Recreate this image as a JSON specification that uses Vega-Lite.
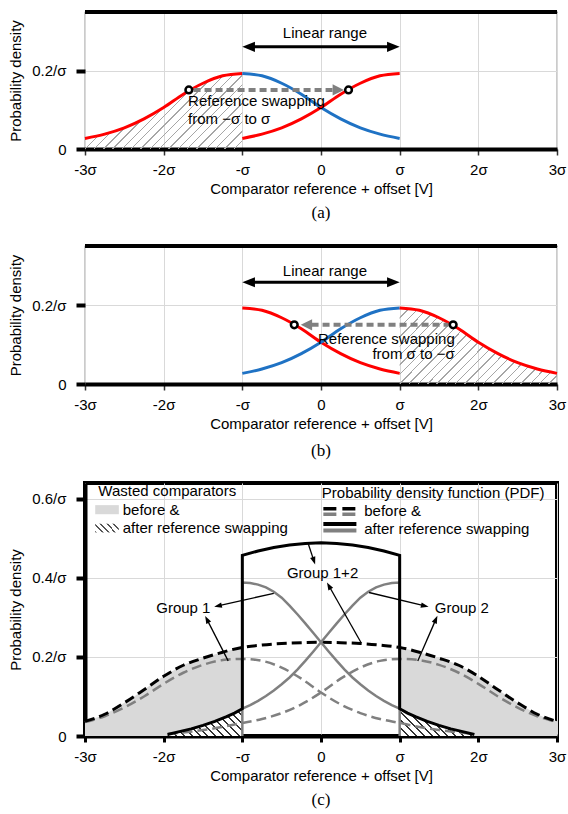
{
"$schema": "https://vega.github.io/schema/vega-lite/v6.json",
"background": "white",
"padding": {"left": 6, "top": 9, "right": 0, "bottom": 2},
"spacing": 21,
"config": {
 "font": "Liberation Sans",
 "view": {"stroke": null},
 "axis": {"labelFont": "Liberation Sans", "titleFont": "Liberation Sans", "labelFontSize": 15, "titleFontSize": 15, "titleFontWeight": "normal", "labelColor": "black", "titleColor": "black", "gridColor": "#d9d9d9", "gridWidth": 1},
 "text": {"font": "Liberation Sans", "fontSize": 15, "color": "black"},
 "title": {"font": "Liberation Serif", "fontSize": 17, "fontWeight": "normal", "color": "black", "orient": "bottom", "offset": 9}
},
"datasets": {
 "f1L": [{"x":-3,"y":0.027},{"x":-2.75,"y":0.038},{"x":-2.5,"y":0.054},{"x":-2.25,"y":0.077},{"x":-2,"y":0.106},{"x":-1.75,"y":0.14},{"x":-1.5,"y":0.168},{"x":-1.25,"y":0.187},{"x":-1,"y":0.193}],
 "f1M": [{"x":-1,"y":0.193},{"x":-0.75,"y":0.187},{"x":-0.5,"y":0.168},{"x":-0.25,"y":0.14},{"x":0,"y":0.106},{"x":0.25,"y":0.077},{"x":0.5,"y":0.054},{"x":0.75,"y":0.038},{"x":1,"y":0.027}],
 "f2M": [{"x":-1,"y":0.027},{"x":-0.75,"y":0.038},{"x":-0.5,"y":0.054},{"x":-0.25,"y":0.077},{"x":0,"y":0.106},{"x":0.25,"y":0.14},{"x":0.5,"y":0.168},{"x":0.75,"y":0.187},{"x":1,"y":0.193}],
 "f2R": [{"x":1,"y":0.193},{"x":1.25,"y":0.187},{"x":1.5,"y":0.168},{"x":1.75,"y":0.14},{"x":2,"y":0.106},{"x":2.25,"y":0.077},{"x":2.5,"y":0.054},{"x":2.75,"y":0.038},{"x":3,"y":0.027}],
 "cFill": [
  {"g":"L","x":-3,"y":0.037},{"g":"L","x":-2.75,"y":0.055},{"g":"L","x":-2.5,"y":0.084},{"g":"L","x":-2.25,"y":0.117},{"g":"L","x":-2,"y":0.151},{"g":"L","x":-1.75,"y":0.179},{"g":"L","x":-1.5,"y":0.197},{"g":"L","x":-1.25,"y":0.212},{"g":"L","x":-1,"y":0.224},
  {"g":"R","x":1,"y":0.224},{"g":"R","x":1.25,"y":0.212},{"g":"R","x":1.5,"y":0.197},{"g":"R","x":1.75,"y":0.179},{"g":"R","x":2,"y":0.151},{"g":"R","x":2.25,"y":0.117},{"g":"R","x":2.5,"y":0.084},{"g":"R","x":2.75,"y":0.055},{"g":"R","x":3,"y":0.037}],
 "cDash": [{"x":-3,"y":0.037},{"x":-2.75,"y":0.055},{"x":-2.5,"y":0.084},{"x":-2.25,"y":0.117},{"x":-2,"y":0.151},{"x":-1.75,"y":0.179},{"x":-1.5,"y":0.197},{"x":-1.25,"y":0.212},{"x":-1,"y":0.224},{"x":-0.75,"y":0.23},{"x":-0.5,"y":0.234},{"x":-0.25,"y":0.236},{"x":0,"y":0.237},{"x":0.25,"y":0.236},{"x":0.5,"y":0.234},{"x":0.75,"y":0.23},{"x":1,"y":0.224},{"x":1.25,"y":0.212},{"x":1.5,"y":0.197},{"x":1.75,"y":0.179},{"x":2,"y":0.151},{"x":2.25,"y":0.117},{"x":2.5,"y":0.084},{"x":2.75,"y":0.055},{"x":3,"y":0.037}],
 "cGrayDash": [
  {"g":"1","x":-3,"y":0.035},{"g":"1","x":-2.75,"y":0.05},{"g":"1","x":-2.5,"y":0.072},{"g":"1","x":-2.25,"y":0.1},{"g":"1","x":-2,"y":0.132},{"g":"1","x":-1.75,"y":0.16},{"g":"1","x":-1.5,"y":0.18},{"g":"1","x":-1.25,"y":0.192},{"g":"1","x":-1,"y":0.195},{"g":"1","x":-0.75,"y":0.19},{"g":"1","x":-0.5,"y":0.173},{"g":"1","x":-0.25,"y":0.145},{"g":"1","x":0,"y":0.11},{"g":"1","x":0.25,"y":0.08},{"g":"1","x":0.5,"y":0.058},{"g":"1","x":0.75,"y":0.043},{"g":"1","x":1,"y":0.033},{"g":"1","x":1.25,"y":0.023},{"g":"1","x":1.5,"y":0.015},{"g":"1","x":1.75,"y":0.009},{"g":"1","x":1.95,"y":0.005},
  {"g":"2","x":-1.95,"y":0.005},{"g":"2","x":-1.75,"y":0.009},{"g":"2","x":-1.5,"y":0.015},{"g":"2","x":-1.25,"y":0.023},{"g":"2","x":-1,"y":0.033},{"g":"2","x":-0.75,"y":0.043},{"g":"2","x":-0.5,"y":0.058},{"g":"2","x":-0.25,"y":0.08},{"g":"2","x":0,"y":0.11},{"g":"2","x":0.25,"y":0.145},{"g":"2","x":0.5,"y":0.173},{"g":"2","x":0.75,"y":0.19},{"g":"2","x":1,"y":0.195},{"g":"2","x":1.25,"y":0.192},{"g":"2","x":1.5,"y":0.18},{"g":"2","x":1.75,"y":0.16},{"g":"2","x":2,"y":0.132},{"g":"2","x":2.25,"y":0.1},{"g":"2","x":2.5,"y":0.072},{"g":"2","x":2.75,"y":0.05},{"g":"2","x":3,"y":0.035}],
 "cTail": [
  {"g":"L","x":-1.95,"y":0.004},{"g":"L","x":-1.8,"y":0.011},{"g":"L","x":-1.65,"y":0.018},{"g":"L","x":-1.5,"y":0.027},{"g":"L","x":-1.35,"y":0.037},{"g":"L","x":-1.2,"y":0.049},{"g":"L","x":-1.1,"y":0.058},{"g":"L","x":-1,"y":0.069},
  {"g":"R","x":1,"y":0.069},{"g":"R","x":1.1,"y":0.058},{"g":"R","x":1.2,"y":0.049},{"g":"R","x":1.35,"y":0.037},{"g":"R","x":1.5,"y":0.027},{"g":"R","x":1.65,"y":0.018},{"g":"R","x":1.8,"y":0.011},{"g":"R","x":1.95,"y":0.004}],
 "cBlack": [
  {"i":0,"x":-1.95,"y":0.004},{"i":1,"x":-1.8,"y":0.011},{"i":2,"x":-1.65,"y":0.018},{"i":3,"x":-1.5,"y":0.027},{"i":4,"x":-1.35,"y":0.037},{"i":5,"x":-1.2,"y":0.049},{"i":6,"x":-1.1,"y":0.058},{"i":7,"x":-1,"y":0.069},
  {"i":8,"x":-1,"y":0.457},{"i":9,"x":-0.8,"y":0.468},{"i":10,"x":-0.6,"y":0.477},{"i":11,"x":-0.4,"y":0.483},{"i":12,"x":-0.2,"y":0.487},{"i":13,"x":0,"y":0.489},{"i":14,"x":0.2,"y":0.487},{"i":15,"x":0.4,"y":0.483},{"i":16,"x":0.6,"y":0.477},{"i":17,"x":0.8,"y":0.468},{"i":18,"x":1,"y":0.457},
  {"i":19,"x":1,"y":0.069},{"i":20,"x":1.1,"y":0.058},{"i":21,"x":1.2,"y":0.049},{"i":22,"x":1.35,"y":0.037},{"i":23,"x":1.5,"y":0.027},{"i":24,"x":1.65,"y":0.018},{"i":25,"x":1.8,"y":0.011},{"i":26,"x":1.95,"y":0.004}],
 "cGray": [
  {"g":"1","i":0,"x":-1,"y":0},{"g":"1","i":1,"x":-1,"y":0.388},{"g":"1","i":2,"x":-0.9,"y":0.387},{"g":"1","i":3,"x":-0.8,"y":0.383},{"g":"1","i":4,"x":-0.7,"y":0.376},{"g":"1","i":5,"x":-0.6,"y":0.365},{"g":"1","i":6,"x":-0.5,"y":0.35},{"g":"1","i":7,"x":-0.4,"y":0.33},{"g":"1","i":8,"x":-0.3,"y":0.308},{"g":"1","i":9,"x":-0.2,"y":0.285},{"g":"1","i":10,"x":-0.1,"y":0.261},{"g":"1","i":11,"x":0,"y":0.237},{"g":"1","i":12,"x":0.1,"y":0.213},{"g":"1","i":13,"x":0.2,"y":0.19},{"g":"1","i":14,"x":0.3,"y":0.168},{"g":"1","i":15,"x":0.4,"y":0.148},{"g":"1","i":16,"x":0.5,"y":0.131},{"g":"1","i":17,"x":0.6,"y":0.115},{"g":"1","i":18,"x":0.7,"y":0.101},{"g":"1","i":19,"x":0.8,"y":0.089},{"g":"1","i":20,"x":0.9,"y":0.078},{"g":"1","i":21,"x":1,"y":0.069},
  {"g":"2","i":0,"x":1,"y":0},{"g":"2","i":1,"x":1,"y":0.388},{"g":"2","i":2,"x":0.9,"y":0.387},{"g":"2","i":3,"x":0.8,"y":0.383},{"g":"2","i":4,"x":0.7,"y":0.376},{"g":"2","i":5,"x":0.6,"y":0.365},{"g":"2","i":6,"x":0.5,"y":0.35},{"g":"2","i":7,"x":0.4,"y":0.33},{"g":"2","i":8,"x":0.3,"y":0.308},{"g":"2","i":9,"x":0.2,"y":0.285},{"g":"2","i":10,"x":0.1,"y":0.261},{"g":"2","i":11,"x":0,"y":0.237},{"g":"2","i":12,"x":-0.1,"y":0.213},{"g":"2","i":13,"x":-0.2,"y":0.19},{"g":"2","i":14,"x":-0.3,"y":0.168},{"g":"2","i":15,"x":-0.4,"y":0.148},{"g":"2","i":16,"x":-0.5,"y":0.131},{"g":"2","i":17,"x":-0.6,"y":0.115},{"g":"2","i":18,"x":-0.7,"y":0.101},{"g":"2","i":19,"x":-0.8,"y":0.089},{"g":"2","i":20,"x":-0.9,"y":0.078},{"g":"2","i":21,"x":-1,"y":0.069}]
},
"vconcat": [
 {
  "width": 472, "height": 137,
  "view": {"stroke": "#555555", "strokeWidth": 1.2},
  "title": {"text": "(a)", "offset": 9},
  "layer": [
   {"data": {"name": "f1L"},
    "mark": {"type": "area", "interpolate": "monotone", "fill": {"gradient": "linear", "x1": 0, "y1": 0, "x2": 1.203, "y2": 0.577, "stops": [
     {"offset":0,"color":"#a6a6a6"},{"offset":0.006,"color":"#a6a6a6"},{"offset":0.006,"color":"rgba(255,255,255,0)"},{"offset":0.04,"color":"rgba(255,255,255,0)"},
     {"offset":0.04,"color":"#a6a6a6"},{"offset":0.046,"color":"#a6a6a6"},{"offset":0.046,"color":"rgba(255,255,255,0)"},{"offset":0.08,"color":"rgba(255,255,255,0)"},
     {"offset":0.08,"color":"#a6a6a6"},{"offset":0.086,"color":"#a6a6a6"},{"offset":0.086,"color":"rgba(255,255,255,0)"},{"offset":0.12,"color":"rgba(255,255,255,0)"},
     {"offset":0.12,"color":"#a6a6a6"},{"offset":0.126,"color":"#a6a6a6"},{"offset":0.126,"color":"rgba(255,255,255,0)"},{"offset":0.16,"color":"rgba(255,255,255,0)"},
     {"offset":0.16,"color":"#a6a6a6"},{"offset":0.166,"color":"#a6a6a6"},{"offset":0.166,"color":"rgba(255,255,255,0)"},{"offset":0.2,"color":"rgba(255,255,255,0)"},
     {"offset":0.2,"color":"#a6a6a6"},{"offset":0.206,"color":"#a6a6a6"},{"offset":0.206,"color":"rgba(255,255,255,0)"},{"offset":0.24,"color":"rgba(255,255,255,0)"},
     {"offset":0.24,"color":"#a6a6a6"},{"offset":0.246,"color":"#a6a6a6"},{"offset":0.246,"color":"rgba(255,255,255,0)"},{"offset":0.28,"color":"rgba(255,255,255,0)"},
     {"offset":0.28,"color":"#a6a6a6"},{"offset":0.286,"color":"#a6a6a6"},{"offset":0.286,"color":"rgba(255,255,255,0)"},{"offset":0.32,"color":"rgba(255,255,255,0)"},
     {"offset":0.32,"color":"#a6a6a6"},{"offset":0.326,"color":"#a6a6a6"},{"offset":0.326,"color":"rgba(255,255,255,0)"},{"offset":0.36,"color":"rgba(255,255,255,0)"},
     {"offset":0.36,"color":"#a6a6a6"},{"offset":0.366,"color":"#a6a6a6"},{"offset":0.366,"color":"rgba(255,255,255,0)"},{"offset":0.4,"color":"rgba(255,255,255,0)"},
     {"offset":0.4,"color":"#a6a6a6"},{"offset":0.406,"color":"#a6a6a6"},{"offset":0.406,"color":"rgba(255,255,255,0)"},{"offset":0.44,"color":"rgba(255,255,255,0)"},
     {"offset":0.44,"color":"#a6a6a6"},{"offset":0.446,"color":"#a6a6a6"},{"offset":0.446,"color":"rgba(255,255,255,0)"},{"offset":0.48,"color":"rgba(255,255,255,0)"},
     {"offset":0.48,"color":"#a6a6a6"},{"offset":0.486,"color":"#a6a6a6"},{"offset":0.486,"color":"rgba(255,255,255,0)"},{"offset":0.52,"color":"rgba(255,255,255,0)"},
     {"offset":0.52,"color":"#a6a6a6"},{"offset":0.526,"color":"#a6a6a6"},{"offset":0.526,"color":"rgba(255,255,255,0)"},{"offset":0.56,"color":"rgba(255,255,255,0)"},
     {"offset":0.56,"color":"#a6a6a6"},{"offset":0.566,"color":"#a6a6a6"},{"offset":0.566,"color":"rgba(255,255,255,0)"},{"offset":0.6,"color":"rgba(255,255,255,0)"},
     {"offset":0.6,"color":"#a6a6a6"},{"offset":0.606,"color":"#a6a6a6"},{"offset":0.606,"color":"rgba(255,255,255,0)"},{"offset":0.64,"color":"rgba(255,255,255,0)"},
     {"offset":0.64,"color":"#a6a6a6"},{"offset":0.646,"color":"#a6a6a6"},{"offset":0.646,"color":"rgba(255,255,255,0)"},{"offset":0.68,"color":"rgba(255,255,255,0)"},
     {"offset":0.68,"color":"#a6a6a6"},{"offset":0.686,"color":"#a6a6a6"},{"offset":0.686,"color":"rgba(255,255,255,0)"},{"offset":0.72,"color":"rgba(255,255,255,0)"},
     {"offset":0.72,"color":"#a6a6a6"},{"offset":0.726,"color":"#a6a6a6"},{"offset":0.726,"color":"rgba(255,255,255,0)"},{"offset":0.76,"color":"rgba(255,255,255,0)"},
     {"offset":0.76,"color":"#a6a6a6"},{"offset":0.766,"color":"#a6a6a6"},{"offset":0.766,"color":"rgba(255,255,255,0)"},{"offset":0.8,"color":"rgba(255,255,255,0)"},
     {"offset":0.8,"color":"#a6a6a6"},{"offset":0.806,"color":"#a6a6a6"},{"offset":0.806,"color":"rgba(255,255,255,0)"},{"offset":0.84,"color":"rgba(255,255,255,0)"},
     {"offset":0.84,"color":"#a6a6a6"},{"offset":0.846,"color":"#a6a6a6"},{"offset":0.846,"color":"rgba(255,255,255,0)"},{"offset":0.88,"color":"rgba(255,255,255,0)"},
     {"offset":0.88,"color":"#a6a6a6"},{"offset":0.886,"color":"#a6a6a6"},{"offset":0.886,"color":"rgba(255,255,255,0)"},{"offset":0.92,"color":"rgba(255,255,255,0)"},
     {"offset":0.92,"color":"#a6a6a6"},{"offset":0.926,"color":"#a6a6a6"},{"offset":0.926,"color":"rgba(255,255,255,0)"},{"offset":0.96,"color":"rgba(255,255,255,0)"},
     {"offset":0.96,"color":"#a6a6a6"},{"offset":0.966,"color":"#a6a6a6"},{"offset":0.966,"color":"rgba(255,255,255,0)"},{"offset":1,"color":"rgba(255,255,255,0)"}]}},
    "encoding": {
     "x": {"field": "x", "type": "quantitative", "scale": {"domain": [-3, 3], "nice": false, "zero": false},
      "axis": {"values": [-3,-2,-1,0,1,2,3], "labelExpr": "datum.value == 0 ? '0' : datum.value == 1 ? 'σ' : datum.value == -1 ? '-σ' : datum.value + 'σ'", "title": "Comparator reference + offset [V]", "domainColor": "black", "domainWidth": 4, "tickColor": "#333333", "tickWidth": 1.5, "tickSize": 6, "labelPadding": 7, "titlePadding": 4, "labelFlush": false, "labelOverlap": false, "grid": true}},
     "y": {"field": "y", "type": "quantitative", "stack": null, "scale": {"domain": [0, 0.35], "nice": false},
      "axis": {"values": [0, 0.2], "labelExpr": "datum.value == 0 ? '0' : format(datum.value, '.1f') + '/σ'", "title": "Probability density", "domain": false, "tickColor": "black", "tickWidth": 4, "tickSize": 9, "labelPadding": 10, "titlePadding": 8, "grid": true}}
    }},
   {"data": {"name": "f1L"}, "mark": {"type": "line", "interpolate": "monotone", "color": "#ff0000", "strokeWidth": 3},
    "encoding": {"x": {"field": "x", "type": "quantitative"}, "y": {"field": "y", "type": "quantitative"}}},
   {"data": {"name": "f1M"}, "mark": {"type": "line", "interpolate": "monotone", "color": "#1f72c4", "strokeWidth": 3},
    "encoding": {"x": {"field": "x", "type": "quantitative"}, "y": {"field": "y", "type": "quantitative"}}},
   {"data": {"name": "f2M"}, "mark": {"type": "line", "interpolate": "monotone", "color": "#ff0000", "strokeWidth": 3},
    "encoding": {"x": {"field": "x", "type": "quantitative"}, "y": {"field": "y", "type": "quantitative"}}},
   {"data": {"values": [{"x": -1.62, "x2": 0.16, "y": 0.151}]}, "mark": {"type": "rule", "color": "#808080", "strokeWidth": 4, "strokeDash": [7, 4]},
    "encoding": {"x": {"field": "x", "type": "quantitative"}, "x2": {"field": "x2"}, "y": {"field": "y", "type": "quantitative"}}},
   {"data": {"values": [{"x": 0.22, "y": 0.151}]}, "mark": {"type": "point", "shape": "M0,-1L1,1L-1,1Z", "angle": 90, "filled": true, "color": "#808080", "size": 130, "opacity": 1},
    "encoding": {"x": {"field": "x", "type": "quantitative"}, "y": {"field": "y", "type": "quantitative"}}},
   {"data": {"values": [{"x": -1.68, "y": 0.151}, {"x": 0.35, "y": 0.151}]}, "mark": {"type": "point", "shape": "circle", "filled": true, "fill": "white", "stroke": "black", "strokeWidth": 2.5, "size": 45, "opacity": 1},
    "encoding": {"x": {"field": "x", "type": "quantitative"}, "y": {"field": "y", "type": "quantitative"}}},
   {"data": {"values": [{"x": -0.92, "x2": 0.92, "y": 0.261}]}, "mark": {"type": "rule", "color": "black", "strokeWidth": 3},
    "encoding": {"x": {"field": "x", "type": "quantitative"}, "x2": {"field": "x2"}, "y": {"field": "y", "type": "quantitative"}}},
   {"data": {"values": [{"x": -0.92, "y": 0.261}]}, "mark": {"type": "point", "shape": "M0,-1L0.8,1L-0.8,1Z", "angle": 270, "filled": true, "color": "black", "size": 160, "opacity": 1},
    "encoding": {"x": {"field": "x", "type": "quantitative"}, "y": {"field": "y", "type": "quantitative"}}},
   {"data": {"values": [{"x": 0.92, "y": 0.261}]}, "mark": {"type": "point", "shape": "M0,-1L0.8,1L-0.8,1Z", "angle": 90, "filled": true, "color": "black", "size": 160, "opacity": 1},
    "encoding": {"x": {"field": "x", "type": "quantitative"}, "y": {"field": "y", "type": "quantitative"}}},
   {"data": {"values": [{"x": 0.05, "y": 0.296, "t": "Linear range"}]}, "mark": {"type": "text", "align": "center", "baseline": "middle"},
    "encoding": {"x": {"field": "x", "type": "quantitative"}, "y": {"field": "y", "type": "quantitative"}, "text": {"field": "t"}}},
   {"data": {"values": [{"x": -1.69, "y": 0.122, "t": "Reference swapping"}, {"x": -1.69, "y": 0.077, "t": "from −σ to σ"}]}, "mark": {"type": "text", "align": "left", "baseline": "middle"},
    "encoding": {"x": {"field": "x", "type": "quantitative"}, "y": {"field": "y", "type": "quantitative"}, "text": {"field": "t"}}},
   {"data": {"values": [{}]}, "mark": {"type": "rule", "color": "black", "strokeWidth": 4},
    "encoding": {"y": {"datum": 0.35, "type": "quantitative"}}}
  ]
 },
 {
  "width": 472, "height": 138,
  "view": {"stroke": "#555555", "strokeWidth": 1.2},
  "title": {"text": "(b)", "offset": 12},
  "layer": [
   {"data": {"name": "f2R"},
    "mark": {"type": "area", "interpolate": "monotone", "fill": {"gradient": "linear", "x1": 0, "y1": 0, "x2": 1.203, "y2": 0.577, "stops": [
     {"offset":0,"color":"#a6a6a6"},{"offset":0.006,"color":"#a6a6a6"},{"offset":0.006,"color":"rgba(255,255,255,0)"},{"offset":0.04,"color":"rgba(255,255,255,0)"},
     {"offset":0.04,"color":"#a6a6a6"},{"offset":0.046,"color":"#a6a6a6"},{"offset":0.046,"color":"rgba(255,255,255,0)"},{"offset":0.08,"color":"rgba(255,255,255,0)"},
     {"offset":0.08,"color":"#a6a6a6"},{"offset":0.086,"color":"#a6a6a6"},{"offset":0.086,"color":"rgba(255,255,255,0)"},{"offset":0.12,"color":"rgba(255,255,255,0)"},
     {"offset":0.12,"color":"#a6a6a6"},{"offset":0.126,"color":"#a6a6a6"},{"offset":0.126,"color":"rgba(255,255,255,0)"},{"offset":0.16,"color":"rgba(255,255,255,0)"},
     {"offset":0.16,"color":"#a6a6a6"},{"offset":0.166,"color":"#a6a6a6"},{"offset":0.166,"color":"rgba(255,255,255,0)"},{"offset":0.2,"color":"rgba(255,255,255,0)"},
     {"offset":0.2,"color":"#a6a6a6"},{"offset":0.206,"color":"#a6a6a6"},{"offset":0.206,"color":"rgba(255,255,255,0)"},{"offset":0.24,"color":"rgba(255,255,255,0)"},
     {"offset":0.24,"color":"#a6a6a6"},{"offset":0.246,"color":"#a6a6a6"},{"offset":0.246,"color":"rgba(255,255,255,0)"},{"offset":0.28,"color":"rgba(255,255,255,0)"},
     {"offset":0.28,"color":"#a6a6a6"},{"offset":0.286,"color":"#a6a6a6"},{"offset":0.286,"color":"rgba(255,255,255,0)"},{"offset":0.32,"color":"rgba(255,255,255,0)"},
     {"offset":0.32,"color":"#a6a6a6"},{"offset":0.326,"color":"#a6a6a6"},{"offset":0.326,"color":"rgba(255,255,255,0)"},{"offset":0.36,"color":"rgba(255,255,255,0)"},
     {"offset":0.36,"color":"#a6a6a6"},{"offset":0.366,"color":"#a6a6a6"},{"offset":0.366,"color":"rgba(255,255,255,0)"},{"offset":0.4,"color":"rgba(255,255,255,0)"},
     {"offset":0.4,"color":"#a6a6a6"},{"offset":0.406,"color":"#a6a6a6"},{"offset":0.406,"color":"rgba(255,255,255,0)"},{"offset":0.44,"color":"rgba(255,255,255,0)"},
     {"offset":0.44,"color":"#a6a6a6"},{"offset":0.446,"color":"#a6a6a6"},{"offset":0.446,"color":"rgba(255,255,255,0)"},{"offset":0.48,"color":"rgba(255,255,255,0)"},
     {"offset":0.48,"color":"#a6a6a6"},{"offset":0.486,"color":"#a6a6a6"},{"offset":0.486,"color":"rgba(255,255,255,0)"},{"offset":0.52,"color":"rgba(255,255,255,0)"},
     {"offset":0.52,"color":"#a6a6a6"},{"offset":0.526,"color":"#a6a6a6"},{"offset":0.526,"color":"rgba(255,255,255,0)"},{"offset":0.56,"color":"rgba(255,255,255,0)"},
     {"offset":0.56,"color":"#a6a6a6"},{"offset":0.566,"color":"#a6a6a6"},{"offset":0.566,"color":"rgba(255,255,255,0)"},{"offset":0.6,"color":"rgba(255,255,255,0)"},
     {"offset":0.6,"color":"#a6a6a6"},{"offset":0.606,"color":"#a6a6a6"},{"offset":0.606,"color":"rgba(255,255,255,0)"},{"offset":0.64,"color":"rgba(255,255,255,0)"},
     {"offset":0.64,"color":"#a6a6a6"},{"offset":0.646,"color":"#a6a6a6"},{"offset":0.646,"color":"rgba(255,255,255,0)"},{"offset":0.68,"color":"rgba(255,255,255,0)"},
     {"offset":0.68,"color":"#a6a6a6"},{"offset":0.686,"color":"#a6a6a6"},{"offset":0.686,"color":"rgba(255,255,255,0)"},{"offset":0.72,"color":"rgba(255,255,255,0)"},
     {"offset":0.72,"color":"#a6a6a6"},{"offset":0.726,"color":"#a6a6a6"},{"offset":0.726,"color":"rgba(255,255,255,0)"},{"offset":0.76,"color":"rgba(255,255,255,0)"},
     {"offset":0.76,"color":"#a6a6a6"},{"offset":0.766,"color":"#a6a6a6"},{"offset":0.766,"color":"rgba(255,255,255,0)"},{"offset":0.8,"color":"rgba(255,255,255,0)"},
     {"offset":0.8,"color":"#a6a6a6"},{"offset":0.806,"color":"#a6a6a6"},{"offset":0.806,"color":"rgba(255,255,255,0)"},{"offset":0.84,"color":"rgba(255,255,255,0)"},
     {"offset":0.84,"color":"#a6a6a6"},{"offset":0.846,"color":"#a6a6a6"},{"offset":0.846,"color":"rgba(255,255,255,0)"},{"offset":0.88,"color":"rgba(255,255,255,0)"},
     {"offset":0.88,"color":"#a6a6a6"},{"offset":0.886,"color":"#a6a6a6"},{"offset":0.886,"color":"rgba(255,255,255,0)"},{"offset":0.92,"color":"rgba(255,255,255,0)"},
     {"offset":0.92,"color":"#a6a6a6"},{"offset":0.926,"color":"#a6a6a6"},{"offset":0.926,"color":"rgba(255,255,255,0)"},{"offset":0.96,"color":"rgba(255,255,255,0)"},
     {"offset":0.96,"color":"#a6a6a6"},{"offset":0.966,"color":"#a6a6a6"},{"offset":0.966,"color":"rgba(255,255,255,0)"},{"offset":1,"color":"rgba(255,255,255,0)"}]}},
    "encoding": {
     "x": {"field": "x", "type": "quantitative", "scale": {"domain": [-3, 3], "nice": false, "zero": false},
      "axis": {"values": [-3,-2,-1,0,1,2,3], "labelExpr": "datum.value == 0 ? '0' : datum.value == 1 ? 'σ' : datum.value == -1 ? '-σ' : datum.value + 'σ'", "title": "Comparator reference + offset [V]", "domainColor": "black", "domainWidth": 4, "tickColor": "#333333", "tickWidth": 1.5, "tickSize": 6, "labelPadding": 7, "titlePadding": 4, "labelFlush": false, "labelOverlap": false, "grid": true}},
     "y": {"field": "y", "type": "quantitative", "stack": null, "scale": {"domain": [0, 0.35], "nice": false},
      "axis": {"values": [0, 0.2], "labelExpr": "datum.value == 0 ? '0' : format(datum.value, '.1f') + '/σ'", "title": "Probability density", "domain": false, "tickColor": "black", "tickWidth": 4, "tickSize": 9, "labelPadding": 10, "titlePadding": 8, "grid": true}}
    }},
   {"data": {"name": "f1M"}, "mark": {"type": "line", "interpolate": "monotone", "color": "#ff0000", "strokeWidth": 3},
    "encoding": {"x": {"field": "x", "type": "quantitative"}, "y": {"field": "y", "type": "quantitative"}}},
   {"data": {"name": "f2M"}, "mark": {"type": "line", "interpolate": "monotone", "color": "#1f72c4", "strokeWidth": 3},
    "encoding": {"x": {"field": "x", "type": "quantitative"}, "y": {"field": "y", "type": "quantitative"}}},
   {"data": {"name": "f2R"}, "mark": {"type": "line", "interpolate": "monotone", "color": "#ff0000", "strokeWidth": 3},
    "encoding": {"x": {"field": "x", "type": "quantitative"}, "y": {"field": "y", "type": "quantitative"}}},
   {"data": {"values": [{"x": -0.12, "x2": 1.62, "y": 0.15}]}, "mark": {"type": "rule", "color": "#808080", "strokeWidth": 4, "strokeDash": [7, 4]},
    "encoding": {"x": {"field": "x", "type": "quantitative"}, "x2": {"field": "x2"}, "y": {"field": "y", "type": "quantitative"}}},
   {"data": {"values": [{"x": -0.185, "y": 0.15}]}, "mark": {"type": "point", "shape": "M0,-1L1,1L-1,1Z", "angle": 270, "filled": true, "color": "#808080", "size": 130, "opacity": 1},
    "encoding": {"x": {"field": "x", "type": "quantitative"}, "y": {"field": "y", "type": "quantitative"}}},
   {"data": {"values": [{"x": -0.34, "y": 0.15}, {"x": 1.68, "y": 0.15}]}, "mark": {"type": "point", "shape": "circle", "filled": true, "fill": "white", "stroke": "black", "strokeWidth": 2.5, "size": 45, "opacity": 1},
    "encoding": {"x": {"field": "x", "type": "quantitative"}, "y": {"field": "y", "type": "quantitative"}}},
   {"data": {"values": [{"x": -0.92, "x2": 0.92, "y": 0.258}]}, "mark": {"type": "rule", "color": "black", "strokeWidth": 3},
    "encoding": {"x": {"field": "x", "type": "quantitative"}, "x2": {"field": "x2"}, "y": {"field": "y", "type": "quantitative"}}},
   {"data": {"values": [{"x": -0.92, "y": 0.258}]}, "mark": {"type": "point", "shape": "M0,-1L0.8,1L-0.8,1Z", "angle": 270, "filled": true, "color": "black", "size": 160, "opacity": 1},
    "encoding": {"x": {"field": "x", "type": "quantitative"}, "y": {"field": "y", "type": "quantitative"}}},
   {"data": {"values": [{"x": 0.92, "y": 0.258}]}, "mark": {"type": "point", "shape": "M0,-1L0.8,1L-0.8,1Z", "angle": 90, "filled": true, "color": "black", "size": 160, "opacity": 1},
    "encoding": {"x": {"field": "x", "type": "quantitative"}, "y": {"field": "y", "type": "quantitative"}}},
   {"data": {"values": [{"x": 0.05, "y": 0.2875, "t": "Linear range"}]}, "mark": {"type": "text", "align": "center", "baseline": "middle"},
    "encoding": {"x": {"field": "x", "type": "quantitative"}, "y": {"field": "y", "type": "quantitative"}, "text": {"field": "t"}}},
   {"data": {"values": [{"x": 1.7, "y": 0.115, "t": "Reference swapping"}, {"x": 1.7, "y": 0.075, "t": "from σ to −σ"}]}, "mark": {"type": "text", "align": "right", "baseline": "middle"},
    "encoding": {"x": {"field": "x", "type": "quantitative"}, "y": {"field": "y", "type": "quantitative"}, "text": {"field": "t"}}},
   {"data": {"values": [{}]}, "mark": {"type": "rule", "color": "black", "strokeWidth": 4},
    "encoding": {"y": {"datum": 0.35, "type": "quantitative"}}}
  ]
 },
 {
  "width": 472, "height": 253,
  "view": {"stroke": "black", "strokeWidth": 4},
  "title": {"text": "(c)", "offset": 9},
  "layer": [
   {"data": {"name": "cFill"}, "mark": {"type": "area", "interpolate": "monotone", "color": "#d9d9d9"},
    "encoding": {
     "x": {"field": "x", "type": "quantitative", "scale": {"domain": [-3, 3], "nice": false, "zero": false},
      "axis": {"values": [-3,-2,-1,0,1,2,3], "labelExpr": "datum.value == 0 ? '0' : datum.value == 1 ? 'σ' : datum.value == -1 ? '-σ' : datum.value + 'σ'", "title": "Comparator reference + offset [V]", "domainColor": "black", "domainWidth": 4, "tickColor": "black", "tickWidth": 3, "tickSize": 6, "labelPadding": 7, "titlePadding": 4, "labelFlush": false, "labelOverlap": false, "grid": true}},
     "y": {"field": "y", "type": "quantitative", "stack": null, "scale": {"domain": [0, 0.64], "nice": false},
      "axis": {"values": [0, 0.2, 0.4, 0.6], "labelExpr": "datum.value == 0 ? '0' : format(datum.value, '.1f') + '/σ'", "title": "Probability density", "domainColor": "black", "domainWidth": 4, "tickColor": "black", "tickWidth": 4, "tickSize": 9, "labelPadding": 10, "titlePadding": 8, "grid": true}},
     "detail": {"field": "g"}
    }},
   {"data": {"name": "cTail"},
    "mark": {"type": "area", "interpolate": "monotone", "fill": {"gradient": "linear", "x1": 0, "y1": 1, "x2": 1.205, "y2": 0.56, "stops": [
     {"offset":0,"color":"#333333"},{"offset":0.02,"color":"#333333"},{"offset":0.02,"color":"#ffffff"},{"offset":0.0769,"color":"#ffffff"},
     {"offset":0.0769,"color":"#333333"},{"offset":0.0969,"color":"#333333"},{"offset":0.0969,"color":"#ffffff"},{"offset":0.1538,"color":"#ffffff"},
     {"offset":0.1538,"color":"#333333"},{"offset":0.1738,"color":"#333333"},{"offset":0.1738,"color":"#ffffff"},{"offset":0.2308,"color":"#ffffff"},
     {"offset":0.2308,"color":"#333333"},{"offset":0.2508,"color":"#333333"},{"offset":0.2508,"color":"#ffffff"},{"offset":0.3077,"color":"#ffffff"},
     {"offset":0.3077,"color":"#333333"},{"offset":0.3277,"color":"#333333"},{"offset":0.3277,"color":"#ffffff"},{"offset":0.3846,"color":"#ffffff"},
     {"offset":0.3846,"color":"#333333"},{"offset":0.4046,"color":"#333333"},{"offset":0.4046,"color":"#ffffff"},{"offset":0.4615,"color":"#ffffff"},
     {"offset":0.4615,"color":"#333333"},{"offset":0.4815,"color":"#333333"},{"offset":0.4815,"color":"#ffffff"},{"offset":0.5385,"color":"#ffffff"},
     {"offset":0.5385,"color":"#333333"},{"offset":0.5585,"color":"#333333"},{"offset":0.5585,"color":"#ffffff"},{"offset":0.6154,"color":"#ffffff"},
     {"offset":0.6154,"color":"#333333"},{"offset":0.6354,"color":"#333333"},{"offset":0.6354,"color":"#ffffff"},{"offset":0.6923,"color":"#ffffff"},
     {"offset":0.6923,"color":"#333333"},{"offset":0.7123,"color":"#333333"},{"offset":0.7123,"color":"#ffffff"},{"offset":0.7692,"color":"#ffffff"},
     {"offset":0.7692,"color":"#333333"},{"offset":0.7892,"color":"#333333"},{"offset":0.7892,"color":"#ffffff"},{"offset":0.8462,"color":"#ffffff"},
     {"offset":0.8462,"color":"#333333"},{"offset":0.8662,"color":"#333333"},{"offset":0.8662,"color":"#ffffff"},{"offset":0.9231,"color":"#ffffff"},
     {"offset":0.9231,"color":"#333333"},{"offset":0.9431,"color":"#333333"},{"offset":0.9431,"color":"#ffffff"},{"offset":1,"color":"#ffffff"}]}},
    "encoding": {"x": {"field": "x", "type": "quantitative"}, "y": {"field": "y", "type": "quantitative", "stack": null}, "detail": {"field": "g"}}},
   {"data": {"name": "cGrayDash"}, "mark": {"type": "line", "interpolate": "monotone", "color": "#808080", "strokeWidth": 2.5, "strokeDash": [10, 5]},
    "encoding": {"x": {"field": "x", "type": "quantitative"}, "y": {"field": "y", "type": "quantitative"}, "detail": {"field": "g"}}},
   {"data": {"name": "cDash"}, "mark": {"type": "line", "interpolate": "monotone", "color": "black", "strokeWidth": 3, "strokeDash": [10, 5]},
    "encoding": {"x": {"field": "x", "type": "quantitative"}, "y": {"field": "y", "type": "quantitative"}}},
   {"data": {"name": "cGray"}, "mark": {"type": "line", "color": "#808080", "strokeWidth": 2.5},
    "encoding": {"x": {"field": "x", "type": "quantitative"}, "y": {"field": "y", "type": "quantitative"}, "detail": {"field": "g"}, "order": {"field": "i", "type": "quantitative"}}},
   {"data": {"name": "cBlack"}, "mark": {"type": "line", "color": "black", "strokeWidth": 3},
    "encoding": {"x": {"field": "x", "type": "quantitative"}, "y": {"field": "y", "type": "quantitative"}, "order": {"field": "i", "type": "quantitative"}}},
   {"data": {"values": [
     {"x": -0.16, "y": 0.485, "x2": -0.09, "y2": 0.443},
     {"x": -0.6, "y": 0.361, "x2": -1.31, "y2": 0.329},
     {"x": -1.18, "y": 0.19, "x2": -1.45, "y2": 0.295},
     {"x": 0.61, "y": 0.363, "x2": 1.32, "y2": 0.329},
     {"x": 1.23, "y": 0.19, "x2": 1.46, "y2": 0.295},
     {"x": 0.51, "y": 0.236, "x2": 0.1, "y2": 0.38}]},
    "mark": {"type": "rule", "color": "black", "strokeWidth": 1.3},
    "encoding": {"x": {"field": "x", "type": "quantitative"}, "y": {"field": "y", "type": "quantitative"}, "x2": {"field": "x2"}, "y2": {"field": "y2"}}},
   {"data": {"values": [{"x": -0.09, "y": 0.443}]}, "mark": {"type": "point", "shape": "M0,-1L0.7,1L-0.7,1Z", "angle": 161.7, "filled": true, "color": "black", "size": 60, "opacity": 1},
    "encoding": {"x": {"field": "x", "type": "quantitative"}, "y": {"field": "y", "type": "quantitative"}}},
   {"data": {"values": [{"x": -1.31, "y": 0.329}]}, "mark": {"type": "point", "shape": "M0,-1L0.7,1L-0.7,1Z", "angle": 257.3, "filled": true, "color": "black", "size": 60, "opacity": 1},
    "encoding": {"x": {"field": "x", "type": "quantitative"}, "y": {"field": "y", "type": "quantitative"}}},
   {"data": {"values": [{"x": -1.45, "y": 0.295}]}, "mark": {"type": "point", "shape": "M0,-1L0.7,1L-0.7,1Z", "angle": 332.9, "filled": true, "color": "black", "size": 60, "opacity": 1},
    "encoding": {"x": {"field": "x", "type": "quantitative"}, "y": {"field": "y", "type": "quantitative"}}},
   {"data": {"values": [{"x": 1.32, "y": 0.329}]}, "mark": {"type": "point", "shape": "M0,-1L0.7,1L-0.7,1Z", "angle": 103.5, "filled": true, "color": "black", "size": 60, "opacity": 1},
    "encoding": {"x": {"field": "x", "type": "quantitative"}, "y": {"field": "y", "type": "quantitative"}}},
   {"data": {"values": [{"x": 1.46, "y": 0.295}]}, "mark": {"type": "point", "shape": "M0,-1L0.7,1L-0.7,1Z", "angle": 23.6, "filled": true, "color": "black", "size": 60, "opacity": 1},
    "encoding": {"x": {"field": "x", "type": "quantitative"}, "y": {"field": "y", "type": "quantitative"}}},
   {"data": {"values": [{"x": 0.1, "y": 0.38}]}, "mark": {"type": "point", "shape": "M0,-1L0.7,1L-0.7,1Z", "angle": 330.4, "filled": true, "color": "black", "size": 60, "opacity": 1},
    "encoding": {"x": {"field": "x", "type": "quantitative"}, "y": {"field": "y", "type": "quantitative"}}},
   {"data": {"values": [{"x": -2.87, "x2": -2.57, "y": 0.561, "y2": 0.584}]}, "mark": {"type": "rect", "color": "#d9d9d9"},
    "encoding": {"x": {"field": "x", "type": "quantitative"}, "x2": {"field": "x2"}, "y": {"field": "y", "type": "quantitative"}, "y2": {"field": "y2"}}},
   {"data": {"values": [{"x": -2.87, "x2": -2.57, "y": 0.515, "y2": 0.537}]},
    "mark": {"type": "rect", "fill": {"gradient": "linear", "x1": 0, "y1": 1, "x2": 1.2, "y2": 0.58, "stops": [
     {"offset":0,"color":"#555555"},{"offset":0.06,"color":"#555555"},{"offset":0.06,"color":"#ffffff"},{"offset":0.2,"color":"#ffffff"},
     {"offset":0.2,"color":"#555555"},{"offset":0.26,"color":"#555555"},{"offset":0.26,"color":"#ffffff"},{"offset":0.4,"color":"#ffffff"},
     {"offset":0.4,"color":"#555555"},{"offset":0.46,"color":"#555555"},{"offset":0.46,"color":"#ffffff"},{"offset":0.6,"color":"#ffffff"},
     {"offset":0.6,"color":"#555555"},{"offset":0.66,"color":"#555555"},{"offset":0.66,"color":"#ffffff"},{"offset":0.8,"color":"#ffffff"},
     {"offset":0.8,"color":"#555555"},{"offset":0.86,"color":"#555555"},{"offset":0.86,"color":"#ffffff"},{"offset":1,"color":"#ffffff"}]}},
    "encoding": {"x": {"field": "x", "type": "quantitative"}, "x2": {"field": "x2"}, "y": {"field": "y", "type": "quantitative"}, "y2": {"field": "y2"}}},
   {"data": {"values": [{"x": 0.03, "x2": 0.45, "y": 0.575}]}, "mark": {"type": "rule", "color": "black", "strokeWidth": 3.5, "strokeDash": [13, 6]},
    "encoding": {"x": {"field": "x", "type": "quantitative"}, "x2": {"field": "x2"}, "y": {"field": "y", "type": "quantitative"}}},
   {"data": {"values": [{"x": 0.03, "x2": 0.45, "y": 0.561}]}, "mark": {"type": "rule", "color": "#808080", "strokeWidth": 3.5, "strokeDash": [13, 6]},
    "encoding": {"x": {"field": "x", "type": "quantitative"}, "x2": {"field": "x2"}, "y": {"field": "y", "type": "quantitative"}}},
   {"data": {"values": [{"x": 0.03, "x2": 0.45, "y": 0.536}]}, "mark": {"type": "rule", "color": "black", "strokeWidth": 4},
    "encoding": {"x": {"field": "x", "type": "quantitative"}, "x2": {"field": "x2"}, "y": {"field": "y", "type": "quantitative"}}},
   {"data": {"values": [{"x": 0.03, "x2": 0.45, "y": 0.52}]}, "mark": {"type": "rule", "color": "#808080", "strokeWidth": 4},
    "encoding": {"x": {"field": "x", "type": "quantitative"}, "x2": {"field": "x2"}, "y": {"field": "y", "type": "quantitative"}}},
   {"data": {"values": [
     {"x": -2.83, "y": 0.62, "t": "Wasted comparators"},
     {"x": -2.52, "y": 0.572, "t": "before &"},
     {"x": -2.52, "y": 0.526, "t": "after reference swapping"},
     {"x": 0.01, "y": 0.614, "t": "Probability density function (PDF)"},
     {"x": 0.55, "y": 0.568, "t": "before &"},
     {"x": 0.55, "y": 0.523, "t": "after reference swapping"}]},
    "mark": {"type": "text", "align": "left", "baseline": "middle"},
    "encoding": {"x": {"field": "x", "type": "quantitative"}, "y": {"field": "y", "type": "quantitative"}, "text": {"field": "t"}}},
   {"data": {"values": [
     {"x": 0.02, "y": 0.413, "t": "Group 1+2"},
     {"x": -1.75, "y": 0.325, "t": "Group 1"},
     {"x": 1.79, "y": 0.325, "t": "Group 2"}]},
    "mark": {"type": "text", "align": "center", "baseline": "middle"},
    "encoding": {"x": {"field": "x", "type": "quantitative"}, "y": {"field": "y", "type": "quantitative"}, "text": {"field": "t"}}}
  ]
 }
]
}
